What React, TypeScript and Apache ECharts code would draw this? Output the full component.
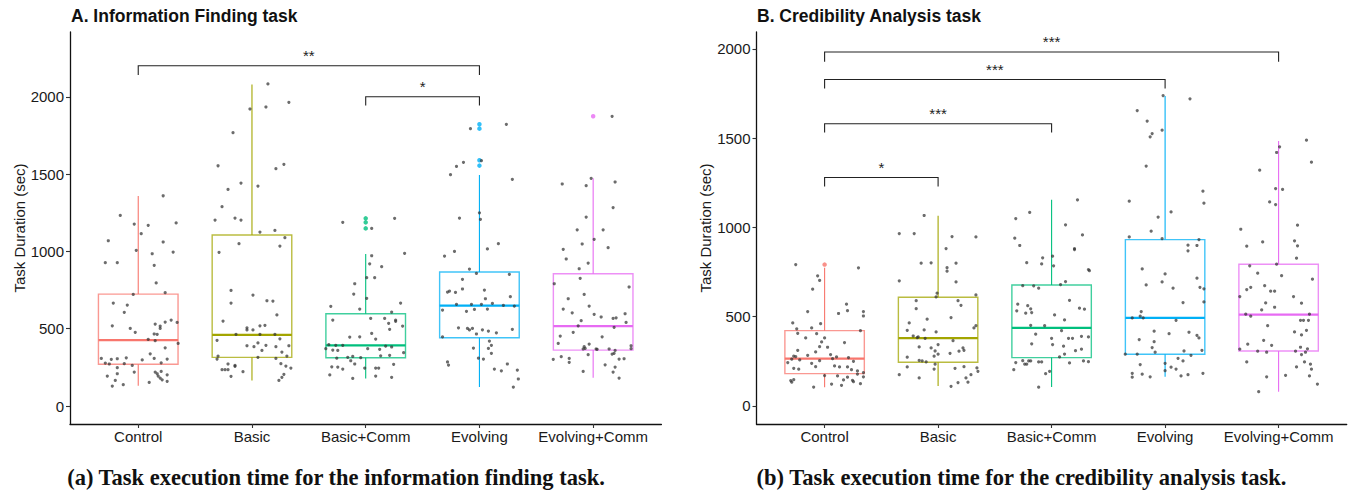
import React, { useEffect, useRef } from "react";
import * as echarts from "echarts";

const CATEGORIES = ["Control", "Basic", "Basic+Comm", "Evolving", "Evolving+Comm"];
const COLORS = ["#F8766D", "#A3A500", "#00BF7D", "#00B0F6", "#E76BF3"];
const Y_TICKS = [0, 500, 1000, 1500, 2000];
const X_TICKS = [0, 1, 2, 3, 4];

const TITLE_A = "A. Information Finding task";
const TITLE_B = "B. Credibility Analysis task";
const CAPTION_A = "(a) Task execution time for the information finding task.";
const CAPTION_B = "(b) Task execution time for the credibility analysis task.";
const Y_NAME = "Task Duration (sec)";

// box stats: [lowerWhisker, q1, median, q3, upperWhisker]
const BOX_A = [
  [131, 270, 427, 724, 1358],
  [166, 315, 461, 1106, 2080],
  [179, 312, 392, 597, 983],
  [123, 442, 649, 867, 1494],
  [183, 362, 517, 856, 1473],
];
const BOX_B = [
  [105, 181, 265, 422, 774],
  [112, 245, 380, 609, 1065],
  [106, 271, 437, 678, 1155],
  [163, 290, 493, 932, 1736],
  [80, 308, 512, 794, 1484],
];

const OUTLIERS_A = [[], [], [1214, 1188, 1149], [1822, 1794, 1590, 1555], [1874]];
const OUTLIERS_B = [[792], [], [], [], []];

// significance brackets: [fromCat, toCat, top, tickEnd]
const SIG_A = [
  [0, 3, 2201, 2141],
  [2, 3, 2000, 1943],
];
const SIG_A_LABELS = ["**", "*"];
const SIG_B = [
  [0, 1, 1280, 1229],
  [0, 2, 1581, 1532],
  [0, 3, 1829, 1779],
  [0, 4, 1983, 1929],
];
const SIG_B_LABELS = ["*", "***", "***", "***"];

// jittered observations: [jitter (1/114 of category spacing), seconds]
const JITTER_DIV = 114;

const A_CONTROL = [
  [-18, 1233], [25, 1360], [-4, 1177], [10, 1169], [3, 1115], [38, 1184], [-30, 1069], [25, 1061],
  [-2, 1007], [-33, 927], [-21, 927], [14, 985], [35, 996], [16, 910], [18, 796], [-5, 722],
  [27, 733], [-25, 666], [-11, 653], [-14, 606], [-26, 519], [-8, 502], [-3, 477], [17, 530],
  [22, 517], [22, 502], [27, 543], [33, 556], [39, 541], [16, 466], [19, 464], [10, 431],
  [17, 423], [40, 405], [12, 338], [27, 377], [-37, 308], [-27, 302], [-21, 306], [-12, 312],
  [4, 298], [16, 308], [29, 304], [-33, 278], [-29, 272], [-14, 274], [-6, 263], [23, 280],
  [-21, 248], [-4, 220], [17, 220], [19, 209], [23, 224], [-31, 194], [-21, 209], [20, 194],
  [29, 202], [22, 181], [24, 170], [29, 160], [-23, 166], [-26, 129], [-15, 138], [11, 153],
];
const A_BASIC = [
  [16, 2083], [-2, 1921], [14, 1934], [37, 1964], [-19, 1768], [-34, 1554], [32, 1563], [24, 1535],
  [-11, 1442], [-24, 1401], [6, 1423], [-30, 1289], [-37, 1203], [-17, 1216], [-11, 1203], [8, 1125],
  [23, 1136], [33, 1089], [-13, 1050], [28, 1035], [-33, 994], [-21, 748], [1, 718], [-21, 666],
  [15, 681], [21, 679], [25, 589], [-29, 550], [-5, 506], [-5, 492], [1, 492], [13, 522],
  [8, 519], [-16, 464], [8, 464], [23, 464], [28, 435], [-35, 425], [-5, 390], [2, 384],
  [6, 408], [14, 393], [24, 384], [37, 390], [10, 360], [30, 349], [35, 323], [-34, 323],
  [-35, 304], [6, 315], [24, 308], [-24, 272], [-17, 263], [-17, 257], [29, 274], [34, 259],
  [39, 246], [-30, 235], [-27, 235], [-24, 235], [-9, 222], [-21, 192], [32, 205], [30, 186], [27, 166],
];
const A_BASIC_COMM = [
  [-23, 1188], [6, 1149], [29, 1214], [6, 972], [4, 920], [16, 901], [1, 830], [9, 830],
  [39, 988], [-11, 791], [-12, 724], [1, 697], [35, 666], [-6, 627], [26, 608], [5, 567],
  [19, 567], [30, 556], [30, 548], [23, 535], [37, 517], [24, 496], [6, 470], [-6, 448],
  [-16, 446], [10, 433], [-33, 556], [-35, 645], [-40, 371], [-37, 397], [-34, 254], [-36, 201],
  [-30, 393], [-23, 393], [-33, 362], [-28, 360], [2, 371], [14, 367], [20, 388], [26, 382],
  [38, 345], [15, 325], [24, 328], [-18, 315], [-13, 321], [-5, 313], [-29, 310], [-15, 293],
  [-11, 272], [-28, 252], [-23, 239], [-1, 246], [10, 246], [13, 246], [28, 270], [-13, 179],
  [10, 194], [26, 186],
];
const A_EVOLVING = [
  [-9, 1794], [27, 1822], [2, 1587], [-23, 1550], [-16, 1576], [-29, 1496], [33, 1466], [0, 1250],
  [1, 1208], [-20, 1216], [19, 1050], [8, 1016], [-35, 970], [-25, 1000], [-10, 886], [-3, 858],
  [30, 852], [-17, 820], [-32, 737], [-30, 744], [-24, 735], [-17, 757], [5, 750], [6, 694],
  [31, 707], [-23, 658], [-8, 658], [2, 658], [13, 664], [24, 651], [35, 647], [-37, 621],
  [-13, 613], [-5, 625], [8, 627], [-21, 506], [-12, 502], [-10, 492], [-7, 502], [3, 493],
  [9, 485], [17, 474], [33, 496], [-3, 466], [-37, 448], [10, 420], [12, 393], [9, 373],
  [-6, 375], [12, 341], [-1, 310], [4, 304], [-32, 285], [-31, 265], [15, 239], [22, 228],
  [28, 272], [38, 233], [39, 175], [34, 123],
];
const A_EVOLVING_COMM = [
  [19, 1874], [-2, 1473], [22, 1449], [-31, 1436], [-7, 1425], [20, 1284], [-7, 1222], [-16, 1140],
  [10, 1140], [1, 1078], [-11, 1048], [15, 1024], [-30, 1014], [-27, 951], [-5, 925], [-14, 888],
  [-13, 826], [-39, 791], [36, 770], [-9, 722], [-25, 694], [-4, 647], [-30, 627], [-21, 603],
  [1, 593], [8, 576], [20, 567], [23, 571], [32, 597], [33, 541], [-12, 552], [-15, 519],
  [21, 509], [-20, 477], [-33, 453], [9, 448], [-35, 405], [-4, 401], [-9, 384], [-10, 369],
  [-8, 373], [3, 369], [4, 367], [16, 369], [22, 360], [38, 390], [38, 371], [-5, 332],
  [19, 336], [21, 341], [-40, 302], [-32, 319], [-24, 308], [-24, 283], [26, 304], [31, 306],
  [-10, 224], [12, 267], [22, 252], [20, 220], [26, 181],
];

const B_CONTROL = [
  [-29, 792], [34, 774], [-7, 729], [-5, 703], [-12, 654], [-17, 529], [22, 570], [23, 534],
  [14, 518], [39, 529], [39, 504], [-32, 465], [-4, 461], [-13, 437], [-28, 432], [-27, 407],
  [-8, 405], [36, 422], [0, 381], [-19, 381], [-3, 359], [20, 355], [-5, 332], [3, 329],
  [-27, 312], [-9, 303], [6, 288], [-31, 279], [-29, 277], [-17, 284], [12, 275], [24, 271],
  [-33, 262], [-25, 258], [-5, 254], [8, 265], [29, 250], [-13, 239], [-37, 243], [10, 224],
  [15, 219], [23, 219], [-9, 220], [-31, 211], [-26, 206], [27, 203], [33, 196], [33, 179],
  [39, 187], [39, 163], [0, 170], [13, 168], [23, 161], [-34, 142], [-33, 133], [-31, 147],
  [19, 146], [28, 144], [29, 136], [36, 125], [7, 123], [17, 116], [-11, 106],
];
const B_BASIC = [
  [-14, 1067], [-39, 966], [-24, 966], [14, 949], [38, 947], [8, 882], [-17, 800], [-7, 802],
  [18, 800], [9, 775], [9, 755], [-39, 701], [18, 695], [-1, 632], [-2, 611], [38, 622],
  [-22, 590], [-22, 545], [20, 590], [23, 564], [-11, 486], [13, 495], [-29, 465], [-31, 424],
  [-14, 426], [-2, 415], [38, 450], [36, 437], [-25, 392], [-21, 383], [-20, 387], [-13, 379],
  [15, 366], [0, 344], [-19, 331], [-7, 325], [25, 325], [26, 312], [21, 307], [-3, 308],
  [0, 290], [-4, 279], [12, 295], [-31, 273], [-19, 256], [-16, 252], [-12, 247], [-3, 234],
  [-31, 219], [-4, 207], [17, 211], [26, 220], [39, 213], [40, 194], [-39, 175], [-19, 157],
  [28, 157], [33, 175], [20, 131], [30, 133], [13, 110],
];
const B_BASIC_COMM = [
  [-36, 1050], [-22, 1084], [26, 1155], [14, 1015], [31, 958], [-37, 940], [-32, 899], [23, 882],
  [23, 876], [-9, 830], [-10, 796], [-25, 803], [1, 839], [2, 785], [37, 764], [38, 758],
  [-29, 674], [-18, 673], [-13, 660], [9, 680], [14, 697], [18, 592], [-34, 570], [-24, 562],
  [-21, 544], [-35, 533], [-26, 520], [-20, 523], [3, 510], [13, 482], [28, 548], [33, 542],
  [-21, 452], [-7, 450], [10, 422], [-16, 402], [0, 379], [17, 379], [21, 379], [30, 390],
  [37, 387], [-20, 348], [1, 344], [12, 335], [24, 310], [30, 318], [13, 291], [8, 275],
  [-29, 254], [-23, 252], [-21, 252], [-13, 247], [-10, 247], [-36, 243], [-27, 234], [-25, 234],
  [18, 241], [32, 252], [37, 248], [-38, 203], [-6, 181], [-2, 194], [-13, 105],
];
const B_EVOLVING = [
  [-2, 1739], [25, 1721], [-28, 1655], [-18, 1596], [-13, 1526], [-15, 1508], [-3, 1545], [-19, 1344],
  [38, 1203], [39, 1136], [-36, 1147], [6, 1087], [-7, 1058], [-14, 979], [-36, 947], [-3, 938],
  [34, 932], [23, 901], [32, 899], [23, 869], [-23, 768], [0, 740], [-3, 695], [-19, 678],
  [8, 660], [32, 716], [35, 665], [39, 656], [18, 579], [39, 583], [-24, 529], [-25, 503],
  [-33, 493], [-22, 493], [11, 480], [-11, 419], [4, 405], [24, 413], [32, 396], [34, 381],
  [-26, 372], [-11, 360], [-13, 327], [-10, 301], [19, 308], [37, 312], [-40, 290], [-28, 290],
  [26, 284], [13, 267], [18, 252], [-25, 232], [0, 239], [6, 217], [11, 207], [0, 198],
  [-33, 183], [-33, 161], [-23, 178], [-15, 163], [16, 168], [23, 175], [38, 183],
];
const B_EVOLVING_COMM = [
  [28, 1489], [1, 1452], [-2, 1420], [33, 1366], [-19, 1321], [-3, 1218], [4, 1213], [-9, 1143],
  [-3, 1128], [19, 1013], [-38, 990], [-16, 919], [16, 925], [-32, 895], [19, 897], [18, 828],
  [-29, 785], [-2, 794], [-21, 744], [3, 730], [34, 710], [-28, 665], [-32, 652], [-14, 674],
  [-8, 643], [-4, 643], [-39, 613], [15, 613], [-13, 577], [23, 576], [-4, 553], [-17, 538],
  [-33, 514], [-28, 503], [31, 514], [22, 480], [25, 480], [30, 480], [-11, 450], [16, 415],
  [28, 424], [23, 398], [-15, 368], [-31, 346], [-7, 340], [22, 329], [29, 320], [-39, 318],
  [-21, 307], [-12, 301], [17, 307], [27, 301], [23, 288], [-32, 247], [26, 247], [32, 234],
  [18, 219], [33, 206], [7, 172], [-12, 163], [31, 168], [39, 123], [-20, 80],
];

const POINTS_A = [A_CONTROL, A_BASIC, A_BASIC_COMM, A_EVOLVING, A_EVOLVING_COMM];
const POINTS_B = [B_CONTROL, B_BASIC, B_BASIC_COMM, B_EVOLVING, B_EVOLVING_COMM];

const BOX_WIDTH = 0.7;
const SANS = "'Liberation Sans', Arial, sans-serif";
const SERIF = "'Liberation Serif', 'Times New Roman', serif";
const TEXT_COLOR = "#1a1a1a";

function boxRender(params: any, api: any) {
  const i = api.value(0);
  const lo = api.value(1);
  const q1 = api.value(2);
  const med = api.value(3);
  const q3 = api.value(4);
  const hi = api.value(5);
  const hw = BOX_WIDTH / 2;
  const tl = api.coord([i - hw, q3]);
  const br = api.coord([i + hw, q1]);
  const cMed = api.coord([i, med]);
  const cLo = api.coord([i, lo]);
  const cHi = api.coord([i, hi]);
  const color = COLORS[i];
  return {
    type: "group",
    children: [
      { type: "line", shape: { x1: cMed[0], y1: tl[1], x2: cMed[0], y2: cHi[1] }, style: { stroke: color, lineWidth: 1.1 } },
      { type: "line", shape: { x1: cMed[0], y1: br[1], x2: cMed[0], y2: cLo[1] }, style: { stroke: color, lineWidth: 1.1 } },
      {
        type: "rect",
        shape: { x: tl[0], y: tl[1], width: br[0] - tl[0], height: br[1] - tl[1] },
        style: { fill: "none", stroke: color, lineWidth: 1.4, opacity: 0.75 },
      },
      { type: "line", shape: { x1: tl[0], y1: cMed[1], x2: br[0], y2: cMed[1] }, style: { stroke: color, lineWidth: 2.2 } },
    ],
  };
}

function makeSigRender(labels: string[]) {
  return (params: any, api: any) => {
    const a = api.value(0);
    const b = api.value(1);
    const top = api.value(2);
    const end = api.value(3);
    const k = api.value(4);
    const p1b = api.coord([a, end]);
    const p1t = api.coord([a, top]);
    const p2t = api.coord([b, top]);
    const p2b = api.coord([b, end]);
    return {
      type: "group",
      children: [
        {
          type: "polyline",
          shape: { points: [p1b, p1t, p2t, p2b] },
          style: { stroke: "#222", lineWidth: 1.1, fill: "none" },
        },
        {
          type: "text",
          style: {
            text: labels[k],
            x: (p1t[0] + p2t[0]) / 2,
            y: p1t[1] - 10,
            align: "center",
            verticalAlign: "middle",
            fontSize: 15,
            fontFamily: SANS,
            fill: "#222",
          },
        },
      ],
    };
  };
}

function xAxis(gridIndex: number) {
  return {
    type: "value",
    gridIndex,
    min: -0.6,
    max: 4.6,
    axisLine: { onZero: false, lineStyle: { color: "#111", width: 1.3 } },
    axisTick: { customValues: X_TICKS, length: 4, lineStyle: { color: "#333", width: 1.1 } },
    axisLabel: {
      customValues: X_TICKS,
      formatter: (v: number) => CATEGORIES[Math.round(v)],
      fontSize: 15,
      fontFamily: SANS,
      color: TEXT_COLOR,
      margin: 5,
    },
    splitLine: { show: false },
  };
}

function yAxis(gridIndex: number, min: number, max: number, nameGap: number) {
  return {
    type: "value",
    gridIndex,
    min,
    max,
    name: Y_NAME,
    nameLocation: "middle",
    nameGap,
    nameTextStyle: { fontSize: 15, fontFamily: SANS, color: TEXT_COLOR },
    axisLine: { show: true, onZero: false, lineStyle: { color: "#111", width: 1.3 } },
    axisTick: { show: true, customValues: Y_TICKS, length: 4, lineStyle: { color: "#333", width: 1.1 } },
    axisLabel: {
      customValues: Y_TICKS,
      formatter: (v: number) => String(v),
      fontSize: 15,
      fontFamily: SANS,
      color: TEXT_COLOR,
      margin: 6,
    },
    splitLine: { show: false },
  };
}

function panelSeries(idx: number, boxes: number[][], points: number[][][], outliers: number[][], sig: number[][], sigLabels: string[]) {
  return [
    {
      type: "custom",
      xAxisIndex: idx,
      yAxisIndex: idx,
      renderItem: boxRender,
      data: boxes.map((b, i) => [i, ...b]),
      z: 1,
    },
    {
      type: "scatter",
      xAxisIndex: idx,
      yAxisIndex: idx,
      symbolSize: 4.5,
      data: outliers.flatMap((vals, i) => vals.map((v) => ({ value: [i, v], itemStyle: { color: COLORS[i] } }))),
      z: 2,
    },
    {
      type: "scatter",
      xAxisIndex: idx,
      yAxisIndex: idx,
      symbolSize: 3.2,
      itemStyle: { color: "#333", opacity: 0.72 },
      data: points.flatMap((g, i) => g.map(([dx, v]) => [i + dx / JITTER_DIV, v])),
      z: 3,
    },
    {
      type: "custom",
      xAxisIndex: idx,
      yAxisIndex: idx,
      renderItem: makeSigRender(sigLabels),
      data: sig.map((s, k) => [...s, k]),
      z: 4,
    },
  ];
}

export default function App() {
  const ref = useRef<HTMLDivElement>(null);
  useEffect(() => {
    if (!ref.current) return;
    const chart = echarts.init(ref.current, undefined, { renderer: "svg" });
    chart.setOption({
      animation: false,
      backgroundColor: "#ffffff",
      grid: [
        { left: 70, top: 32, width: 591.4, height: 392 },
        { left: 756.5, top: 32, width: 590.2, height: 392 },
      ],
      xAxis: [xAxis(0), xAxis(1)],
      yAxis: [yAxis(0, -116, 2419, 43), yAxis(1, -101, 2095, 44)],
      series: [
        ...panelSeries(0, BOX_A, POINTS_A, OUTLIERS_A, SIG_A, SIG_A_LABELS),
        ...panelSeries(1, BOX_B, POINTS_B, OUTLIERS_B, SIG_B, SIG_B_LABELS),
      ],
      graphic: [
        {
          type: "text",
          x: 71,
          y: 16,
          style: { text: TITLE_A, fontSize: 17.5, fontWeight: "bold", fontFamily: SANS, fill: "#111", verticalAlign: "middle", align: "left" },
        },
        {
          type: "text",
          x: 757,
          y: 16,
          style: { text: TITLE_B, fontSize: 17.5, fontWeight: "bold", fontFamily: SANS, fill: "#111", verticalAlign: "middle", align: "left" },
        },
        {
          type: "text",
          x: 336,
          y: 477,
          style: { text: CAPTION_A, fontSize: 22.5, fontWeight: "bold", fontFamily: SERIF, fill: "#111", verticalAlign: "middle", align: "center" },
        },
        {
          type: "text",
          x: 1021.5,
          y: 477,
          style: { text: CAPTION_B, fontSize: 22.5, fontWeight: "bold", fontFamily: SERIF, fill: "#111", verticalAlign: "middle", align: "center" },
        },
      ],
    });
    return () => chart.dispose();
  }, []);
  return (
    <div
      ref={ref}
      style={{ position: "fixed", left: 0, top: 0, width: 1351, height: 491, background: "#fff" }}
    />
  );
}
